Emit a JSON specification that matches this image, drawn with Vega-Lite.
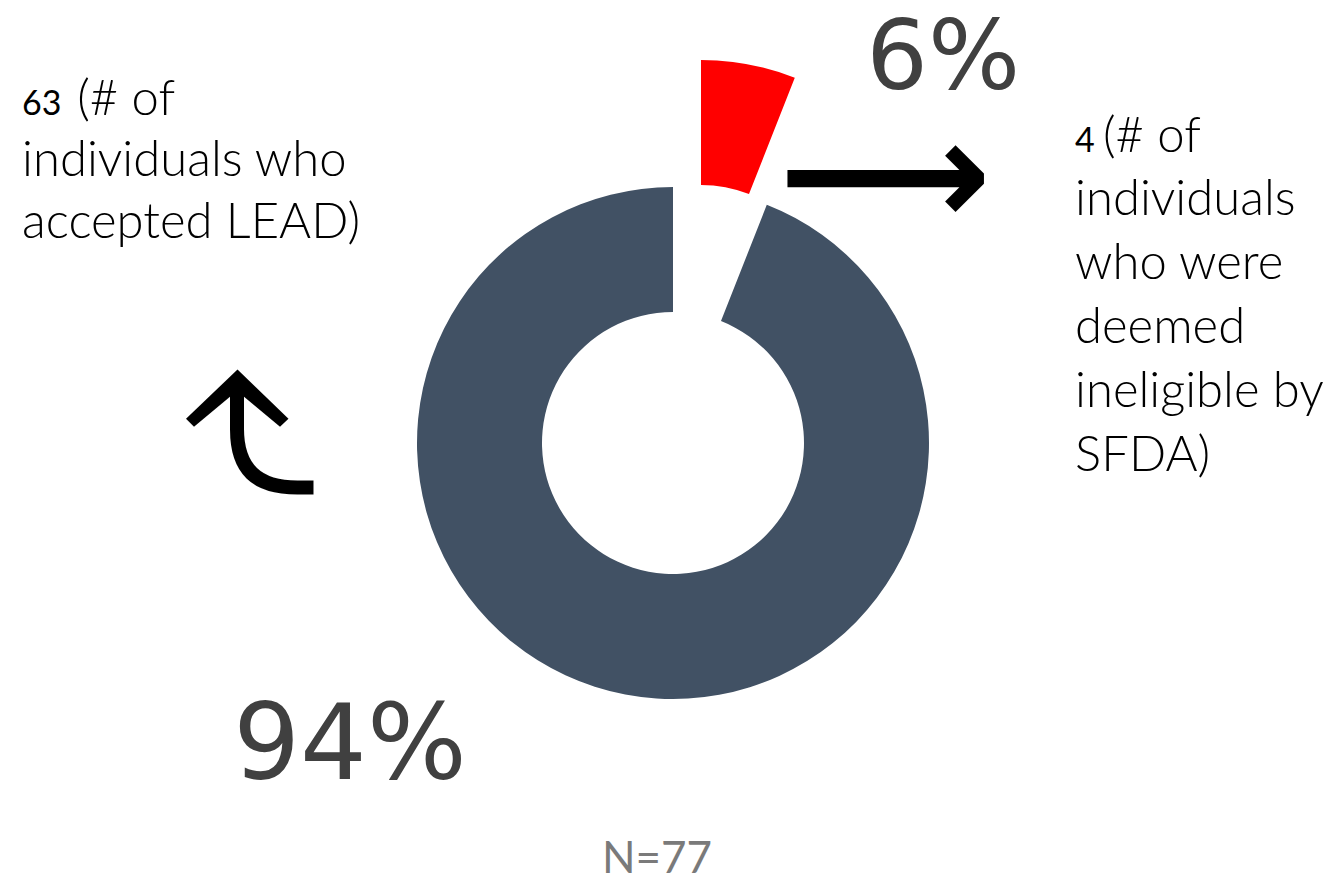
{
  "$schema": "https://vega.github.io/schema/vega-lite/v6.json",
  "width": 1338,
  "height": 882,
  "autosize": {"type": "fit", "contains": "padding"},
  "padding": {"left": 8, "top": 6, "right": 0, "bottom": 0},
  "background": "white",
  "title": {"text": "N=77", "orient": "bottom", "anchor": "middle", "font": "Lato", "fontSize": 44, "fontWeight": "normal", "color": "#7a7a7a", "baseline": "alphabetic", "offset": -7, "dx": -16},
  "data": {"values": [
    {"category": "Ineligible by SFDA", "count": 4, "pct": "6%", "numLabel": "4", "line1": "(# of", "rest": "individuals\nwho were\ndeemed\nineligible by\nSFDA)"},
    {"category": "Accepted LEAD", "count": 63, "pct": "94%", "numLabel": "63", "line1": "(# of", "rest": "individuals who\naccepted LEAD)"}
  ]},
  "transform": [
    {"stack": "count", "groupby": [], "sort": [{"field": "category", "order": "descending"}], "as": ["start", "end"]}
  ],
  "layer": [
    {
      "transform": [{"filter": "datum.category === 'Accepted LEAD'"}],
      "mark": {"type": "arc", "radius": 256, "radius2": 131, "color": "#415164"},
      "encoding": {
        "theta": {"field": "start", "type": "quantitative", "stack": null, "scale": {"domain": [0, 67]}},
        "theta2": {"field": "end"}
      }
    },
    {
      "transform": [{"filter": "datum.category === 'Ineligible by SFDA'"}],
      "mark": {"type": "arc", "radius": 256, "radius2": 131, "color": "#ff0000", "xOffset": 28, "yOffset": -127},
      "encoding": {
        "theta": {"field": "start", "type": "quantitative", "stack": null},
        "theta2": {"field": "end"}
      }
    },
    {
      "transform": [{"filter": "datum.category === 'Ineligible by SFDA'"}],
      "mark": {"type": "text", "radius": 445.3, "thetaOffset": 0.6519, "align": "center", "baseline": "alphabetic", "font": "DejaVu Sans", "fontSize": 97, "fontWeight": "normal", "color": "#404040"},
      "encoding": {"theta": {"field": "start", "type": "quantitative", "stack": null}, "text": {"field": "pct"}}
    },
    {
      "transform": [{"filter": "datum.category === 'Ineligible by SFDA'"}],
      "mark": {"type": "text", "radius": 496.3, "thetaOffset": 0.9440, "align": "left", "baseline": "alphabetic", "font": "Lato", "fontSize": 34, "fontWeight": "normal", "color": "#000000"},
      "encoding": {"theta": {"field": "start", "type": "quantitative", "stack": null}, "text": {"field": "numLabel"}}
    },
    {
      "transform": [{"filter": "datum.category === 'Ineligible by SFDA'"}],
      "mark": {"type": "text", "radius": 519.2, "thetaOffset": 0.9758, "align": "left", "baseline": "alphabetic", "font": "Lato", "fontSize": 49, "fontWeight": 300, "color": "#000000"},
      "encoding": {"theta": {"field": "start", "type": "quantitative", "stack": null}, "text": {"field": "line1"}}
    },
    {
      "transform": [{"filter": "datum.category === 'Ineligible by SFDA'"}],
      "mark": {"type": "text", "radius": 462.2, "thetaOffset": 1.0549, "align": "left", "baseline": "alphabetic", "font": "Lato", "fontSize": 49, "fontWeight": 300, "color": "#000000", "lineBreak": "\n", "lineHeight": 64},
      "encoding": {"theta": {"field": "start", "type": "quantitative", "stack": null}, "text": {"field": "rest"}}
    },
    {
      "transform": [{"filter": "datum.category === 'Ineligible by SFDA'"}],
      "mark": {"type": "text", "radius": 337.0, "thetaOffset": 0.6804, "align": "center", "baseline": "middle", "font": "DejaVu Sans", "fontSize": 148, "fontWeight": "bold", "color": "#000000"},
      "encoding": {"theta": {"field": "start", "type": "quantitative", "stack": null}, "text": {"value": "⟶"}}
    },
    {
      "transform": [{"filter": "datum.category === 'Accepted LEAD'"}],
      "mark": {"type": "text", "radius": 466.1, "thetaOffset": 3.5322, "align": "center", "baseline": "alphabetic", "font": "DejaVu Sans", "fontSize": 105, "fontWeight": "normal", "color": "#404040"},
      "encoding": {"theta": {"field": "start", "type": "quantitative", "stack": null}, "text": {"field": "pct"}}
    },
    {
      "transform": [{"filter": "datum.category === 'Accepted LEAD'"}],
      "mark": {"type": "text", "radius": 729.0, "thetaOffset": 4.8040, "align": "left", "baseline": "alphabetic", "font": "Lato", "fontSize": 34, "fontWeight": "normal", "color": "#000000"},
      "encoding": {"theta": {"field": "start", "type": "quantitative", "stack": null}, "text": {"field": "numLabel"}}
    },
    {
      "transform": [{"filter": "datum.category === 'Accepted LEAD'"}],
      "mark": {"type": "text", "radius": 680.3, "thetaOffset": 4.8409, "align": "left", "baseline": "alphabetic", "font": "Lato", "fontSize": 49, "fontWeight": 300, "color": "#000000"},
      "encoding": {"theta": {"field": "start", "type": "quantitative", "stack": null}, "text": {"field": "line1"}}
    },
    {
      "transform": [{"filter": "datum.category === 'Accepted LEAD'"}],
      "mark": {"type": "text", "radius": 703.6, "thetaOffset": 4.7265, "align": "left", "baseline": "alphabetic", "font": "Lato", "fontSize": 49, "fontWeight": 300, "color": "#000000", "lineBreak": "\n", "lineHeight": 62},
      "encoding": {"theta": {"field": "start", "type": "quantitative", "stack": null}, "text": {"field": "rest"}}
    },
    {
      "transform": [{"filter": "datum.category === 'Accepted LEAD'"}],
      "mark": {"type": "text", "radius": 409.1, "thetaOffset": 4.3593, "align": "center", "baseline": "middle", "font": "DejaVu Sans", "fontSize": 250, "angle": 90, "color": "#000000"},
      "encoding": {"theta": {"field": "start", "type": "quantitative", "stack": null}, "text": {"value": "⤶"}}
    }
  ],
  "config": {"view": {"stroke": null}}
}
